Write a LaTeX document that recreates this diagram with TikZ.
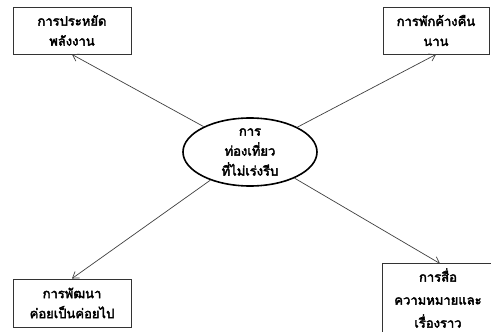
\documentclass[tikz,border=0pt]{standalone}
\usepackage{fontspec}
\newfontfamily\thaifont[Script=Thai, FakeBold=3]{Loma}
\usetikzlibrary{shapes.geometric,arrows.meta}
\begin{document}
\begin{tikzpicture}[x=1pt,y=-1pt,
  lbl/.style={font=\thaifont\fontsize{13}{20}\selectfont, align=center},
  box/.style={lbl, draw=black!80, line width=0.9pt, rectangle, inner sep=0pt},
  conn/.style={draw=black!75, line width=0.7pt, -{Straight Barb[length=6pt,width=8pt]}}]
\useasboundingbox (0,0) rectangle (491,332);
\fill[white] (0,0) rectangle (491,332);
\node[box, minimum width=118pt, minimum height=47pt] (b1) at (72,30.5) {การประหยัด\\พลังงาน};
\node[box, minimum width=106pt, minimum height=47pt] (b2) at (436,30.5) {การพักค้างคืน\\นาน};
\node[box, minimum width=118pt, minimum height=48pt] (b3) at (72,303) {การพัฒนา\\ค่อยเป็นค่อยไป};
\node[box, draw=none, minimum width=110pt, minimum height=68pt, font=\thaifont\fontsize{13}{23}\selectfont] (b4) at (438,298) {การสื่อ\\ความหมายและ\\เรื่องราว};
\draw[draw=black!80, line width=0.9pt] ([yshift=-6pt]b4.south west) |- (b4.north east) -- ([yshift=-6pt]b4.south east);
\node[lbl, ellipse, draw=black, line width=1.6pt, minimum width=134pt, minimum height=68pt, inner sep=0pt] (e) at (250,152) {การ\\ท่องเที่ยว\\ที่ไม่เร่งรีบ};
\draw[conn] (e) -- (b1.south);
\draw[conn] (e) -- (b2.south);
\draw[conn] (e) -- (b3.north);
\draw[conn] (e) -- ([xshift=2pt]b4.north);
\end{tikzpicture}
\end{document}
